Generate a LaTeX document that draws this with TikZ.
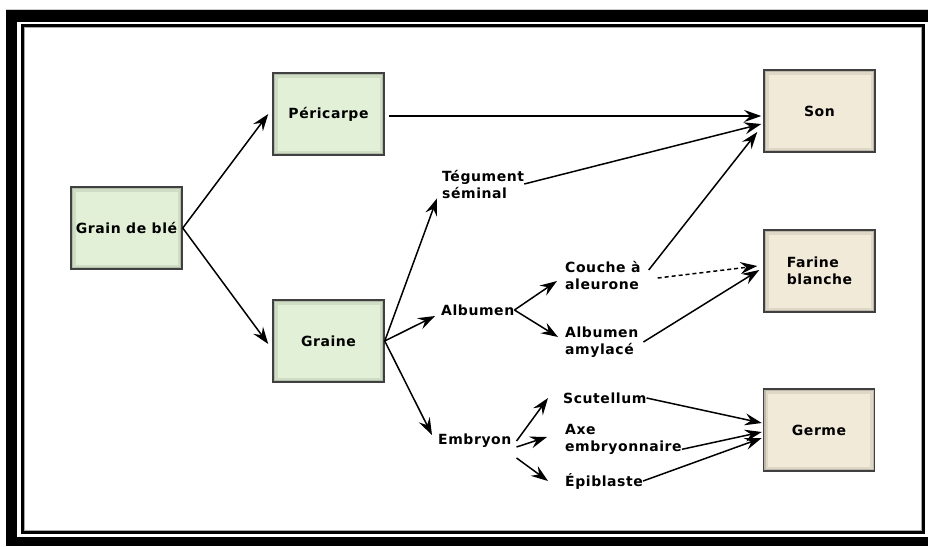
\documentclass[tikz,border=0pt]{standalone}
\usepackage{fontspec}
\setmainfont{DejaVu Sans}
\usepackage{xcolor}
\usepackage{tikz}
\usetikzlibrary{calc,positioning,arrows.meta}
\definecolor{grnfill}{HTML}{E1F0D6}
\definecolor{tanfill}{HTML}{F1EAD8}
\newcommand\lblfont{\fontsize{14}{17}\selectfont\bfseries\addfontfeature{LetterSpace=4}}
\tikzset{
  blk/.style={draw=black!75, line width=1.5pt, minimum width=111pt, minimum height=82pt,
    inner sep=0pt, align=left, font=\lblfont,
    path picture={
      \draw[line width=9pt, black, opacity=0.08] (path picture bounding box.south west) rectangle (path picture bounding box.north east);
      \draw[line width=4pt, black, opacity=0.14] (path picture bounding box.south west) rectangle (path picture bounding box.north east);}},
  grn/.style={blk, fill=grnfill},
  tan/.style={blk, fill=tanfill},
  txt/.style={inner sep=0pt, anchor=west, align=left, font=\lblfont},
  arr/.style={-{Stealth[length=17pt,width=12pt,inset=6pt]}, line width=1.5pt},
  dsh/.style={arr, dash pattern=on 4pt off 3pt}
}

\begin{document}
\begin{tikzpicture}[x=1pt,y=-1pt]
  \useasboundingbox (0,0) rectangle (928,546);
  \fill[black] (6,10) rectangle (928,546);
  \fill[white] (17,22) rectangle (928,537);
  \draw[gray!40, line width=1pt] (6,9) -- (928,9);
  \draw[black, line width=3pt] (22.5,25.5) rectangle (923.5,532.5);
  \draw[gray!70, line width=1pt] (24.5,27.5) rectangle (921.5,530.5);

  \node[grn] (grain) at (126.5,228) {Grain de blé};
  \node[grn] (peri) at (328.5,114) {Péricarpe};
  \node[grn] (graine) at (328.5,341) {Graine};
  \node[tan] (son) at (819.5,111) {Son};
  \node[tan] (farine) at (819.5,271) {Farine\\blanche};
  \node[tan] (germe) at (819,430) {Germe};

  \node[txt] (teg) at (442,184) {Tégument\\séminal};
  \node[txt] (alb) at (441,310) {Albumen};
  \node[txt] (couche) at (565,275) {Couche à\\aleurone};
  \node[txt] (amyl) at (565,342) {Albumen\\amylacé};
  \node[txt] (emb) at (438,441) {Embryon};
  \node[txt] (scut) at (563,398) {Scutellum};
  \node[txt] (axe) at (565,439) {Axe\\embryonnaire};
  \node[txt] (epi) at (565,481) {Épiblaste};

  \draw[arr] (grain.east) -- ([xshift=-4pt]peri.west);
  \draw[arr] (grain.east) -- ([xshift=-4pt,yshift=-3pt]graine.west);
  \draw[arr] ([xshift=4pt,yshift=-2pt]peri.east) -- ([xshift=-2pt,yshift=-5pt]son.west);
  \draw[arr] (teg.east) -- ([xshift=-2pt,yshift=-13pt]son.west);
  \draw[arr] ([xshift=8pt,yshift=5pt]couche.east) -- ([xshift=-6pt,yshift=-21pt]son.west);
  \draw[dsh] ([xshift=17pt,yshift=-3pt]couche.east) -- ([xshift=-6pt,yshift=5pt]farine.west);
  \draw[arr] ([xshift=5pt]amyl.east) -- ([xshift=-4pt,yshift=1pt]farine.west);

  \draw[arr] (graine.east) -- ([xshift=-5pt]teg.south west);
  \draw[arr] (graine.east) -- ([xshift=-6pt,yshift=-6pt]alb.west);
  \draw[arr] (graine.east) -- ([xshift=-6pt,yshift=6pt]emb.west);
  \draw[arr] (alb.east) -- ([xshift=-8pt,yshift=-6pt]couche.west);
  \draw[arr] (alb.east) -- ([xshift=-7pt,yshift=5pt]amyl.west);

  \draw[arr] ([xshift=5pt]emb.east) -- ([xshift=-15pt]scut.west);
  \draw[arr] ([xshift=5pt,yshift=-6pt]emb.east) -- ([xshift=-18pt,yshift=2pt]axe.west);
  \draw[arr] ([xshift=5pt,yshift=-17pt]emb.east) -- ([xshift=-17pt]epi.west);
  \draw[arr] (scut.east) -- ([xshift=-1pt,yshift=7pt]germe.west);
  \draw[arr] ([yshift=5pt]axe.south east) -- ([xshift=-1pt,yshift=-2pt]germe.west);
  \draw[arr] (epi.east) -- ([xshift=-1pt,yshift=-8pt]germe.west);
\end{tikzpicture}
\end{document}
